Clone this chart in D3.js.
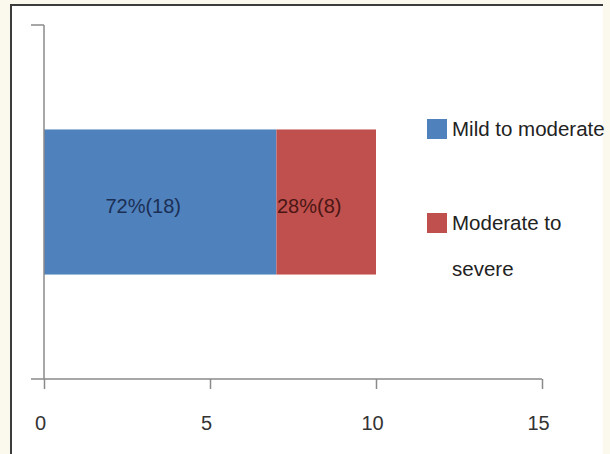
<!DOCTYPE html>
<html>
<head>
<meta charset="utf-8">
<script src="https://cdn.jsdelivr.net/npm/d3@7/dist/d3.min.js"></script>
<style>
  html, body { margin: 0; padding: 0; background: #fbf9ee; }
  svg { display: block; }
  text { font-family: "Liberation Sans", Arial, sans-serif; }
</style>
</head>
<body>
<svg id="chart" width="610" height="454"></svg>
<script>
// Severity split of the group, stacked on one horizontal bar
const categories = ["Severity"];
const seriesNames = ["Mild to moderate", "Moderate to severe"];
const seriesValues = [7, 3];
const valueLabels = ["72%(18)", "28%(8)"];
const xTicks = [0, 5, 10, 15];
const colors = ["#4f81bd", "#c0504d"];
const labelColors = ["#1b2f55", "#4a1614"];

const svg = d3.select("#chart");

// plot frame
svg.append("rect").attr("x", 11).attr("y", 5).attr("width", 592).attr("height", 449)
  .attr("fill", "#ffffff");
svg.append("path").attr("d", "M11,454 L11,5 L603,5")
  .attr("fill", "none").attr("stroke", "#3c3c3c").attr("stroke-width", 2);

const x = d3.scaleLinear().domain([0, 15]).range([44, 542]);
const y = d3.scaleBand().domain(categories).range([379, 25])
  .paddingInner(0).paddingOuter(0.72);

// stacked segments
const stacked = seriesValues.map((v, i) => ({
  name: seriesNames[i],
  start: d3.sum(seriesValues.slice(0, i)),
  value: v,
  label: valueLabels[i],
  color: colors[i],
  labelColor: labelColors[i]
}));

const bars = svg.append("g");
bars.selectAll("rect").data(stacked).join("rect")
  .attr("x", d => x(d.start))
  .attr("y", y(categories[0]))
  .attr("width", d => x(d.start + d.value) - x(d.start))
  .attr("height", y.bandwidth())
  .attr("fill", d => d.color);

bars.selectAll("text").data(stacked).join("text")
  .attr("x", d => x(d.start + d.value / 2) - 17)
  .attr("y", y(categories[0]) + y.bandwidth() / 2 + 4)
  .attr("dy", "0.35em")
  .attr("text-anchor", "middle")
  .attr("font-size", 20)
  .attr("fill", d => d.labelColor)
  .text(d => d.label);

// x axis
const xAxis = svg.append("g").attr("transform", "translate(0,379)")
  .call(d3.axisBottom(x).tickValues(xTicks).tickSize(10).tickSizeOuter(0).tickPadding(0));
xAxis.select(".domain").attr("stroke", "#8a8a8a").attr("stroke-width", 1.5)
  .attr("d", "M31,0H542");
xAxis.selectAll(".tick line").attr("stroke", "#8a8a8a").attr("stroke-width", 1.5);
xAxis.selectAll(".tick text")
  .attr("font-size", 20)
  .attr("fill", "#333")
  .attr("font-family", "Liberation Sans, Arial, sans-serif")
  .attr("dx", -4)
  .attr("y", 51)
  .attr("dy", 0);

// y axis (single category, tick marks at band edges only)
const yAxis = svg.append("g").attr("transform", "translate(44,0)");
yAxis.append("line").attr("x1", 0).attr("x2", 0)
  .attr("y1", y.range()[1]).attr("y2", y.range()[0])
  .attr("stroke", "#8a8a8a").attr("stroke-width", 1.5);
yAxis.append("line").attr("x1", -13).attr("x2", 0)
  .attr("y1", y.range()[1]).attr("y2", y.range()[1])
  .attr("stroke", "#8a8a8a").attr("stroke-width", 1.5);

// legend
const legendRows = [
  { name: "Mild to moderate", lines: ["Mild to moderate"], color: colors[0], top: 119 },
  { name: "Moderate to severe", lines: ["Moderate to", "severe"], color: colors[1], top: 213 }
];
const legend = svg.append("g");
legendRows.forEach(r => {
  legend.append("rect").attr("x", 427).attr("y", r.top).attr("width", 20).attr("height", 20)
    .attr("fill", r.color);
  r.lines.forEach((line, j) => {
    legend.append("text")
      .attr("x", 452)
      .attr("y", r.top + 10 + j * 46)
      .attr("dy", "0.35em")
      .attr("font-size", 20.5)
      .attr("fill", "#222")
      .text(line);
  });
});
</script>
</body>
</html>
